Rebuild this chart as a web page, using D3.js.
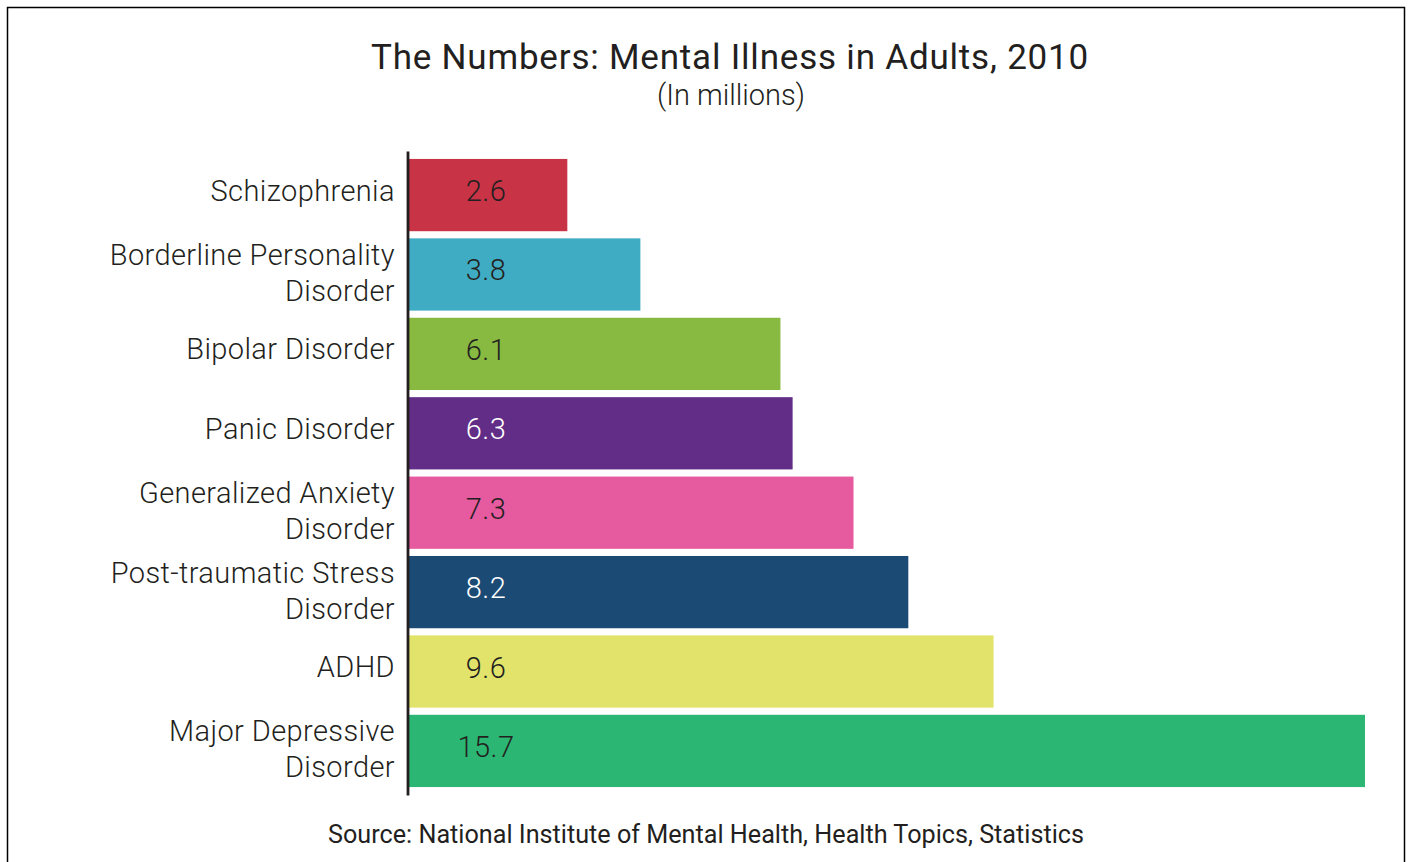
<!DOCTYPE html>
<html><head><meta charset="utf-8">
<script src="https://cdn.jsdelivr.net/npm/d3@7"></script>
<style>
html,body{margin:0;padding:0;background:#fff;}
svg{display:block;}
text{font-family:Roboto,"Liberation Sans",sans-serif;fill:#231f20;}
</style></head>
<body>
<svg id="chart" width="1408" height="862"></svg>
<script>
const categories = ["Schizophrenia","Borderline Personality|Disorder","Bipolar Disorder","Panic Disorder","Generalized Anxiety|Disorder","Post-traumatic Stress|Disorder","ADHD","Major Depressive|Disorder"];
const values = [2.6,3.8,6.1,6.3,7.3,8.2,9.6,15.7];
const barColors = ["#c83346","#40acc3","#88b941","#622d87","#e65a9f","#1b4a75","#e1e36a","#2bb673"];
const labelColors = ["#231f20","#231f20","#231f20","#ffffff","#231f20","#ffffff","#231f20","#231f20"];
const title = "The Numbers: Mental Illness in Adults, 2010";
const subtitle = "(In millions)";
const source = "Source: National Institute of Mental Health, Health Topics, Statistics";

const svg = d3.select("#chart");
svg.append("rect").attr("x",7.5).attr("y",7.5).attr("width",1397).attr("height",900)
  .attr("fill","#fff").attr("stroke","#000").attr("stroke-width",1.5);

const x = d3.scaleLinear().domain([0,15.7]).range([409,1365]);
const y = d3.scaleBand().domain(categories).range([151,795]).paddingInner(0.09).paddingOuter(0.1);

svg.append("text").attr("x",730).attr("y",69).attr("text-anchor","middle")
  .style("font-size","35px").style("letter-spacing","0.8px").text(title);
svg.append("text").attr("x",731).attr("y",105).attr("text-anchor","middle")
  .style("font-size","29px").style("font-weight","300").text(subtitle);

svg.selectAll("rect.bar").data(categories).join("rect").attr("class","bar")
  .attr("x",x(0)).attr("y",d=>y(d)).attr("height",y.bandwidth())
  .attr("width",(d,i)=>x(values[i])-x(0)).attr("fill",(d,i)=>barColors[i]);

svg.selectAll("text.val").data(categories).join("text").attr("class","val")
  .attr("x",486).attr("y",d=>y(d)+y.bandwidth()/2+6)
  .attr("text-anchor","middle").style("font-size","29px").style("font-weight","300")
  .style("letter-spacing","0.4px")
  .style("fill",(d,i)=>labelColors[i]).text((d,i)=>values[i].toFixed(1));

const axis = d3.axisLeft(y).tickSize(0).tickFormat("");
const ag = svg.append("g").attr("transform","translate(407.5,0)").call(axis);
ag.select(".domain").attr("stroke","#231f20").attr("stroke-width",2.8);

const lab = svg.selectAll("text.cat").data(categories).join("text").attr("class","cat")
  .attr("text-anchor","end").style("font-size","29px").style("font-weight","300")
  .style("letter-spacing","0.4px");
lab.each(function(d){
  const lines = d.split("|");
  const cy = y(d)+y.bandwidth()/2;
  const t = d3.select(this);
  if (lines.length === 1) {
    t.append("tspan").attr("x",395).attr("y",cy+5.5).text(lines[0]);
  } else {
    t.append("tspan").attr("x",395).attr("y",cy-9.5).text(lines[0]);
    t.append("tspan").attr("x",395).attr("y",cy+26.5).text(lines[1]);
  }
});

svg.append("text").attr("x",706).attr("y",843).attr("text-anchor","middle")
  .style("font-size","25.2px").text(source);
</script>
</body></html>
